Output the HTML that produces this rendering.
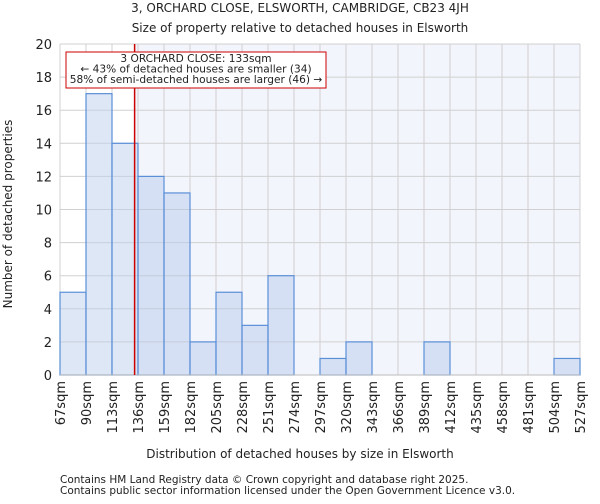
<!DOCTYPE html>
<html><head><meta charset="utf-8"><style>
body{margin:0;background:#fff;font-family:"DejaVu Sans","Liberation Sans",sans-serif;}
svg text{font-family:"DejaVu Sans","Liberation Sans",sans-serif;fill:#222;}
</style></head><body>
<svg id="c" width="600" height="500">
<text x="300" y="12" font-size="12" text-anchor="middle">3, ORCHARD CLOSE, ELSWORTH, CAMBRIDGE, CB23 4JH</text>
<text x="300" y="32" font-size="12" text-anchor="middle">Size of property relative to detached houses in Elsworth</text>
<g id="plot"></g>
<text x="300" y="458" font-size="12" text-anchor="middle">Distribution of detached houses by size in Elsworth</text>
<text transform="translate(12,214) rotate(-90)" font-size="12" text-anchor="middle">Number of detached properties</text>
<text x="60" y="483" font-size="10.5" fill="#444">Contains HM Land Registry data © Crown copyright and database right 2025.</text>
<text x="60" y="494" font-size="10.5" fill="#444">Contains public sector information licensed under the Open Government Licence v3.0.</text>
</svg>
<script>
const binLabels=["67sqm","90sqm","113sqm","136sqm","159sqm","182sqm","205sqm","228sqm","251sqm","274sqm","297sqm","320sqm","343sqm","366sqm","389sqm","412sqm","435sqm","458sqm","481sqm","504sqm","527sqm"];
const binEdges=[67,90,113,136,159,182,205,228,251,274,297,320,343,366,389,412,435,458,481,504,527];
const counts=[5,17,14,12,11,2,5,3,6,0,1,2,0,0,2,0,0,0,0,1];
const yTicks=[0,2,4,6,8,10,12,14,16,18,20];
const propertySize=133;
const NS="http://www.w3.org/2000/svg";
const L=60,R=580,T=44,B=375;
const xs=v=>L+(v-67)/(527-67)*(R-L);
const ys=v=>B-v/20*(B-T);
const g=document.getElementById('plot');
function el(t,a){const e=document.createElementNS(NS,t);for(const k in a)e.setAttribute(k,a[k]);g.appendChild(e);return e;}
const px=xs(propertySize);
let e=el('rect',{x:L,y:T,width:px-L,height:B-T,fill:'#ffffff'});

e=el('rect',{x:px,y:T,width:R-px,height:B-T,fill:'#f3f5fc'});

binEdges.forEach((b,i)=>{const l=el('line',{x1:xs(b),x2:xs(b),y1:T,y2:B,stroke:'#d0d0d0','stroke-width':1});
});
yTicks.forEach(t=>{const l=el('line',{x1:L,x2:R,y1:ys(t),y2:ys(t),stroke:'#d0d0d0','stroke-width':1});

const tx=el('text',{x:L-8,y:ys(t)+5,'font-size':13,'text-anchor':'end'});tx.textContent=t;
});
counts.forEach((c,i)=>{if(c<=0)return;const x0=xs(binEdges[i]),x1=xs(binEdges[i+1]);
const r=el('rect',{x:x0,y:ys(c),width:x1-x0,height:ys(0)-ys(c),fill:binEdges[i+1]<=propertySize+3?'rgba(190,207,235,0.5)':'rgba(180,200,235,0.45)',stroke:'#5a8fd8','stroke-width':1.2});
});
binLabels.forEach((lab,i)=>{const x=xs(binEdges[i]);const tx=el('text',{transform:`translate(${x+5},381) rotate(-90)`,'font-size':13,'text-anchor':'end'});tx.textContent=lab;
});
e=el('line',{x1:L,x2:R,y1:B,y2:B,stroke:'#bbb','stroke-width':1});

e=el('line',{x1:px,x2:px,y1:T,y2:B,stroke:'#cc0000','stroke-width':1.5});

e=el('rect',{x:66,y:52,width:260,height:36,fill:'#fff',stroke:'#cc0000','stroke-width':1});

["3 ORCHARD CLOSE: 133sqm","← 43% of detached houses are smaller (34)","58% of semi-detached houses are larger (46) →"].forEach((s,i)=>{
const tx=el('text',{x:196,y:62+i*10.5,'font-size':10.6,'text-anchor':'middle'});tx.textContent=s;
});
</script>
</body></html>
